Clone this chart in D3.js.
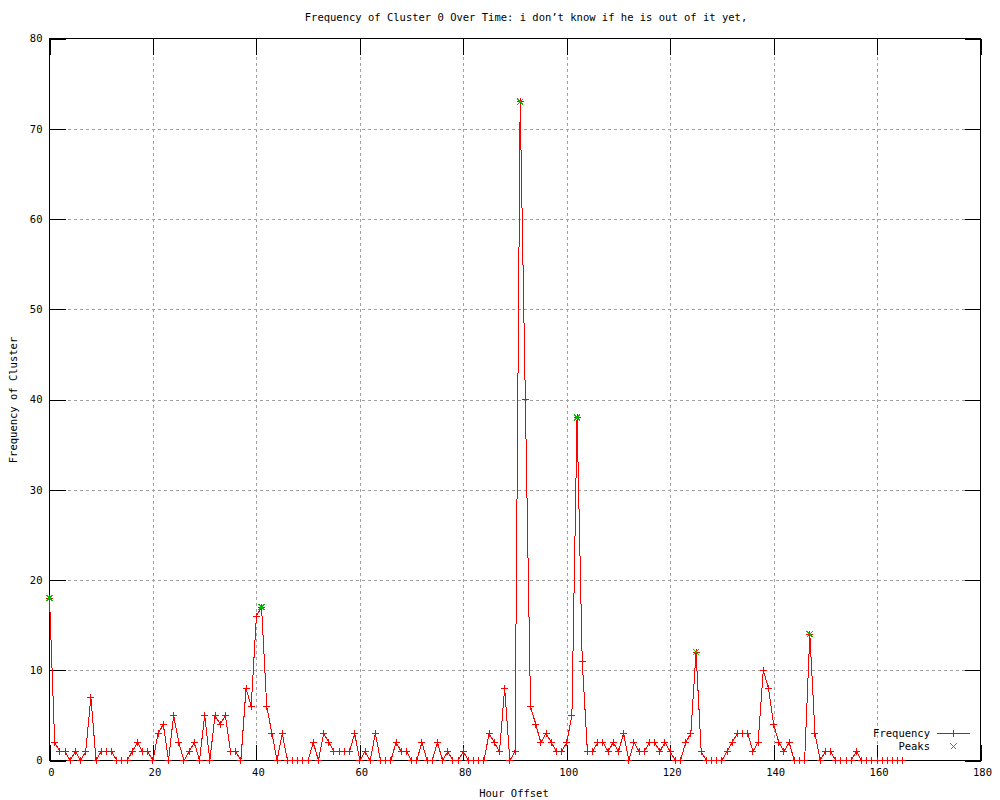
<!DOCTYPE html>
<html lang="en">
<head>
<meta charset="UTF-8">
<title>Frequency of Cluster 0 Over Time</title>
<style>
  body { margin: 0; background: #fff; }
  svg { display: block; background: #fff; }
  text { font-family: "DejaVu Sans Mono", monospace; font-size: 10.5px; fill: #000; }
</style>
</head>
<body>
<svg width="1000" height="800"></svg>
<script src="https://cdn.jsdelivr.net/npm/d3@7"></script>
<script>
// frequency per hour offset (index = hour)
const frequency = [
  18, 2, 1, 1, 0, 1, 0, 1, 7, 0,
  1, 1, 1, 0, 0, 0, 1, 2, 1, 1,
  0, 3, 4, 0, 5, 2, 0, 1, 2, 0,
  5, 0, 5, 4, 5, 1, 1, 0, 8, 6,
  16, 17, 6, 3, 0, 3, 0, 0, 0, 0,
  0, 2, 0, 3, 2, 1, 1, 1, 1, 3,
  0, 1, 0, 3, 0, 0, 0, 2, 1, 1,
  0, 0, 2, 0, 0, 2, 0, 1, 0, 0,
  1, 0, 0, 0, 0, 3, 2, 1, 8, 0,
  1, 73, 40, 6, 4, 2, 3, 2, 1, 1,
  2, 5, 38, 11, 1, 1, 2, 2, 1, 2,
  1, 3, 0, 2, 1, 1, 2, 2, 1, 2,
  1, 0, 0, 2, 3, 12, 1, 0, 0, 0,
  0, 1, 2, 3, 3, 3, 1, 2, 10, 8,
  4, 2, 1, 2, 0, 0, 0, 14, 3, 0,
  1, 1, 0, 0, 0, 0, 1, 0, 0, 0,
  0, 0, 0, 0, 0, 0
];
const peakHours = [0, 41, 91, 102, 125, 147];
const xTicks = [0, 20, 40, 60, 80, 100, 120, 140, 160, 180];
const yTicks = [0, 10, 20, 30, 40, 50, 60, 70, 80];

const red = '#ff0000', green = '#00c000';

const svg = d3.select('svg');
const plotL = 49.5, plotR = 980.5, plotT = 38.5, plotB = 760.5;

const x = d3.scaleLinear().domain([0, 180]).range([plotL, plotR]);
const y = d3.scaleLinear().domain([0, 80]).range([plotB, plotT]);

// grid
const grid = svg.append('g')
  .style('stroke', '#a0a0a0')
  .attr('stroke-dasharray', '3,3')
  .attr('shape-rendering', 'crispEdges');
grid.selectAll('.gx').data(xTicks.slice(1, -1)).enter().append('line')
  .attr('x1', d => Math.round(x(d)) + 0.5).attr('x2', d => Math.round(x(d)) + 0.5)
  .attr('y1', plotT).attr('y2', plotB);
grid.selectAll('.gy').data(yTicks.slice(1, -1)).enter().append('line')
  .attr('y1', d => Math.round(y(d)) + 0.5).attr('y2', d => Math.round(y(d)) + 0.5)
  .attr('x1', plotL).attr('x2', plotR);

// axes, ticks pointing inward like gnuplot
function styleAxis(g) {
  g.select('.domain').remove();
  g.selectAll('.tick line').style('stroke', '#000').attr('shape-rendering', 'crispEdges');
  g.selectAll('.tick text').attr('font-family', null).attr('font-size', null).attr('fill', null);
}

svg.append('g').attr('transform', 'translate(0,' + plotB + ')')
  .call(d3.axisBottom(x).tickValues(xTicks).tickSizeInner(-16).tickSizeOuter(0).tickPadding(8))
  .call(styleAxis)
  .selectAll('text').attr('dx', 1.5);
svg.append('g').attr('transform', 'translate(0,' + plotT + ')')
  .call(d3.axisTop(x).tickValues(xTicks).tickSizeInner(-16).tickSizeOuter(0).tickFormat(''))
  .call(styleAxis);
svg.append('g').attr('transform', 'translate(' + plotL + ',0)')
  .call(d3.axisLeft(y).tickValues(yTicks).tickSizeInner(-16).tickSizeOuter(0).tickPadding(7))
  .call(styleAxis);
svg.append('g').attr('transform', 'translate(' + plotR + ',0)')
  .call(d3.axisRight(y).tickValues(yTicks).tickSizeInner(-16).tickSizeOuter(0).tickFormat(''))
  .call(styleAxis);

// border
svg.append('rect')
  .attr('x', plotL).attr('y', plotT)
  .attr('width', plotR - plotL).attr('height', plotB - plotT)
  .style('fill', 'none').style('stroke', '#000')
  .attr('shape-rendering', 'crispEdges');

// frequency line + points
const line = d3.line().x((d, i) => x(i)).y(d => y(d));
svg.append('path')
  .datum(frequency)
  .attr('d', line)
  .style('fill', 'none')
  .style('stroke', red)
  .style('stroke-width', 1)
  .attr('shape-rendering', 'crispEdges');

const plus = 'M-3.5,0H3.5M0,-3.5V3.5';
const cross = 'M-3,-3L3,3M-3,3L3,-3';

svg.append('g').selectAll('path').data(frequency).enter().append('path')
  .attr('transform', (d, i) => 'translate(' + x(i) + ',' + y(d) + ')')
  .attr('d', plus)
  .style('stroke', red)
  .style('fill', 'none')
  .attr('shape-rendering', 'crispEdges');

// peaks
svg.append('g').selectAll('path').data(peakHours).enter().append('path')
  .attr('transform', d => 'translate(' + x(d) + ',' + y(frequency[d]) + ')')
  .attr('d', cross)
  .style('stroke', green)
  .style('fill', 'none')
  .attr('shape-rendering', 'crispEdges');

// title and labels
svg.append('text')
  .attr('x', 526).attr('y', 21)
  .attr('text-anchor', 'middle')
  .text('Frequency of Cluster 0 Over Time: i don\u2019t know if he is out of it yet,');

svg.append('text')
  .attr('x', 514).attr('y', 797)
  .attr('text-anchor', 'middle')
  .text('Hour Offset');

svg.append('text')
  .attr('transform', 'translate(17,400) rotate(-90)')
  .attr('text-anchor', 'middle')
  .text('Frequency of Cluster');

// legend
const legend = svg.append('g');
legend.append('text').attr('x', 930).attr('y', 737).attr('text-anchor', 'end').text('Frequency');
legend.append('path')
  .attr('d', 'M937,733.5H970')
  .style('stroke', red).style('fill', 'none')
  .attr('shape-rendering', 'crispEdges');
legend.append('path')
  .attr('transform', 'translate(953.5,733.5)')
  .attr('d', plus).style('stroke', red).style('fill', 'none')
  .attr('shape-rendering', 'crispEdges');
legend.append('text').attr('x', 930).attr('y', 750).attr('text-anchor', 'end').text('Peaks');
legend.append('path')
  .attr('transform', 'translate(953.5,746.5)')
  .attr('d', cross).style('stroke', green).style('fill', 'none')
  .attr('shape-rendering', 'crispEdges');
</script>
</body>
</html>
